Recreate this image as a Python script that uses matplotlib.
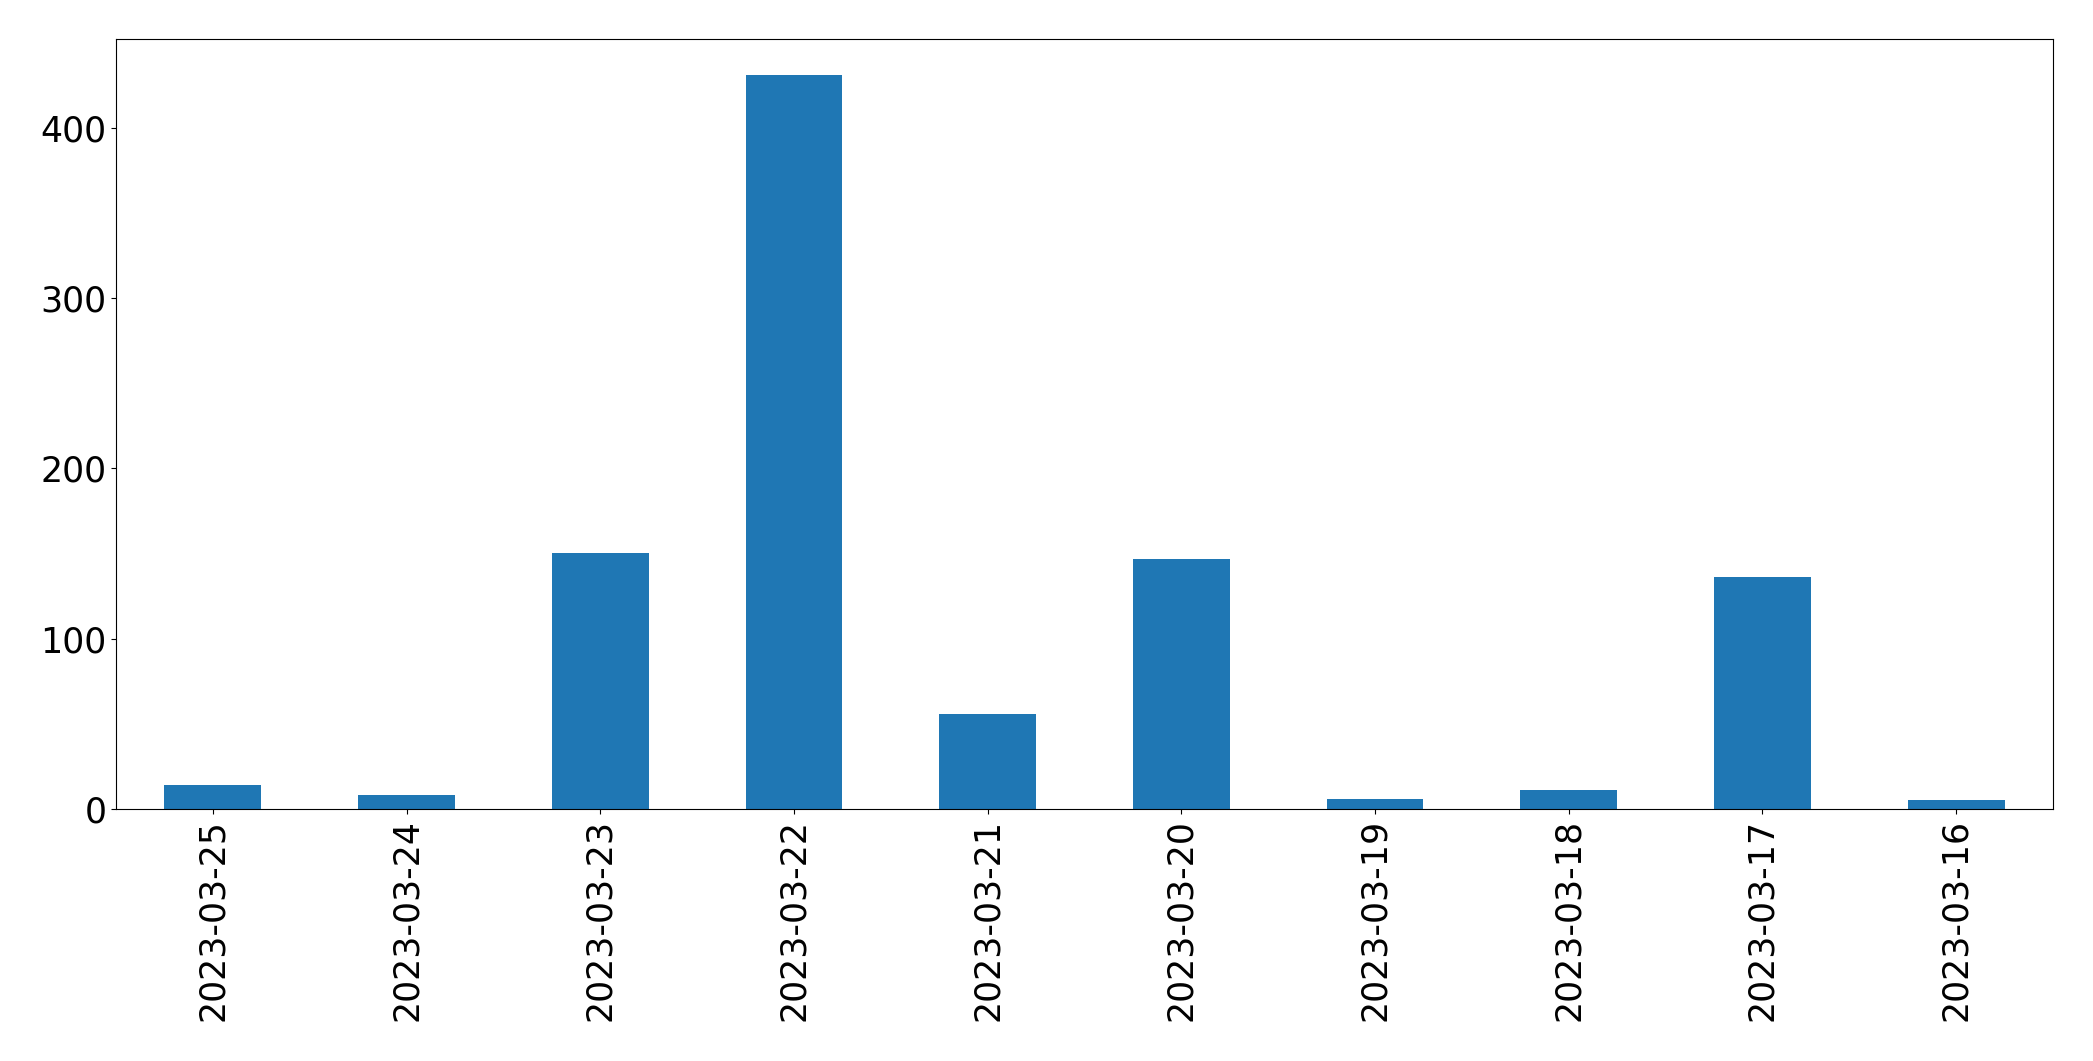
import matplotlib
matplotlib.use("Agg")
import matplotlib.pyplot as plt
import numpy as np

dates = ["2023-03-25", "2023-03-24", "2023-03-23", "2023-03-22", "2023-03-21",
         "2023-03-20", "2023-03-19", "2023-03-18", "2023-03-17", "2023-03-16"]
counts = [14, 8, 150, 431, 56, 147, 6, 11, 136, 5]

fig = plt.figure(figsize=(20.93, 10.61), dpi=100)
ax = fig.add_axes([116/2093, 1 - 809/1061, (2053-116)/2093, (809-39)/1061])
x = np.arange(len(dates))
ax.bar(x, counts, width=0.5, color="#1f77b4")
ax.set_xlim(-0.5, len(dates) - 0.5)
ax.set_ylim(0, 452)
ax.set_xticks(x)
ax.set_xticklabels(dates, rotation=90, fontsize=25)
ax.set_yticks([0, 100, 200, 300, 400])
ax.tick_params(axis="y", labelsize=25)
fig.savefig("out.png", dpi=100)
